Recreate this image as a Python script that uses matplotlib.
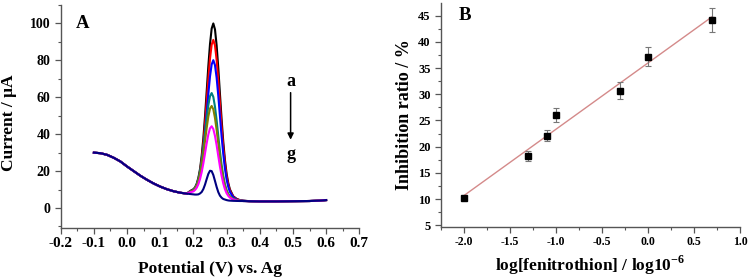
import matplotlib
matplotlib.use("Agg")
import matplotlib.pyplot as plt
import numpy as np
from matplotlib.ticker import MultipleLocator

plt.rcParams['font.family'] = ['Liberation Serif', 'DejaVu Serif']
plt.rcParams['font.weight'] = 'bold'
plt.rcParams['mathtext.fontset'] = 'custom'
plt.rcParams['mathtext.rm'] = 'Liberation Serif:bold'
plt.rcParams['mathtext.bf'] = 'Liberation Serif:bold'

# ---------------- Panel A data (DPV curves a..g) ----------------
left_potential = [-0.10, -0.08, -0.06, -0.04, -0.02, 0.00, 0.02, 0.04, 0.06, 0.08,
                  0.10, 0.12, 0.14, 0.16, 0.18]
left_current = [30.0, 29.7, 28.8, 27.2, 25.2, 22.5, 20.0, 17.5, 15.3, 13.3,
                11.6, 10.2, 9.1, 8.3, 7.8]
peak_potential = [0.19, 0.20, 0.205, 0.21, 0.215, 0.22, 0.225, 0.23, 0.235, 0.24,
                  0.245, 0.25, 0.255, 0.26, 0.265, 0.27, 0.275, 0.28, 0.285, 0.29,
                  0.295, 0.30, 0.305, 0.31, 0.32, 0.33, 0.34, 0.35]
right_potential = [0.37, 0.40, 0.45, 0.50, 0.55, 0.58, 0.60]
right_current = [3.7, 3.6, 3.6, 3.7, 3.8, 4.0, 4.3]

curve_a = [9.2, 10.2, 11.2, 13.2, 16.4, 21.2, 28.4, 37.9, 49.7, 63.2, 76.9, 88.8, 97.2, 100.0,
           96.8, 88.1, 75.8, 61.8, 48.0, 35.9, 26.1, 18.6, 13.6, 10.1, 6.4, 5.0, 4.3, 4.0]
curve_b = [9.1, 9.9, 10.9, 12.6, 15.5, 19.9, 26.4, 34.9, 45.6, 57.8, 70.1, 80.9, 88.5, 91.1,
           88.1, 80.2, 69.0, 56.4, 43.9, 32.9, 24.1, 17.3, 12.7, 9.5, 6.1, 4.8, 4.2, 3.9]
curve_c = [8.9, 9.6, 10.5, 11.9, 14.4, 18.2, 23.8, 31.3, 40.5, 51.1, 61.9, 71.3, 77.8, 80.1,
           77.4, 70.6, 60.8, 49.7, 38.8, 29.3, 21.5, 15.6, 11.6, 8.8, 5.8, 4.6, 4.1, 3.9]
curve_d = [8.9, 9.8, 10.9, 12.8, 15.6, 19.9, 25.5, 32.5, 40.5, 48.6, 55.7, 60.6, 62.3, 60.2,
           54.9, 47.5, 39.0, 30.7, 23.4, 17.5, 12.9, 9.8, 7.7, 6.4, 5.0, 4.4, 4.0, 3.8]
curve_e = [8.7, 9.5, 10.5, 12.1, 14.6, 18.3, 23.2, 29.3, 36.3, 43.4, 49.6, 53.9, 55.3, 53.5,
           48.8, 42.3, 34.8, 27.5, 21.1, 15.9, 11.9, 9.1, 7.3, 6.1, 4.8, 4.3, 4.0, 3.8]
curve_f = [8.5, 9.0, 9.8, 11.0, 12.9, 15.7, 19.5, 24.2, 29.6, 35.1, 39.9, 43.2, 44.3, 42.8,
           39.1, 34.0, 28.1, 22.4, 17.4, 13.3, 10.2, 8.0, 6.6, 5.6, 4.6, 4.1, 3.9, 3.8]
curve_g = [7.6, 7.4, 7.3, 7.3, 7.4, 7.9, 8.7, 10.3, 12.7, 15.7, 18.5, 20.2, 20.0, 17.9,
           14.7, 11.4, 8.6, 6.7, 5.6, 4.9, 4.6, 4.3, 4.1, 4.0, 3.9, 3.85, 3.8, 3.8]
curve_colors = ['#000000', '#ff0000', '#0000ff', '#008080', '#808000', '#ff00ff', '#000080']

a_xticks = [-0.2, -0.1, 0.0, 0.1, 0.2, 0.3, 0.4, 0.5, 0.6, 0.7]
a_yticks = [0, 20, 40, 60, 80, 100]

# ---------------- Panel B data ----------------
log_conc = [-2.0, -1.3, -1.1, -1.0, -0.3, 0.0, 0.7]
inhibition = [10.2, 18.2, 22.1, 26.0, 30.7, 37.2, 44.2]
inhibition_err = [0.4, 0.9, 1.1, 1.3, 1.55, 1.85, 2.25]
b_xticks = [-2.0, -1.5, -1.0, -0.5, 0.0, 0.5, 1.0]
b_yticks = [5, 10, 15, 20, 25, 30, 35, 40, 45]

fig = plt.figure(figsize=(7.48, 2.78), dpi=100)
axA = fig.add_axes([0.0812, 0.180, 0.3991, 0.802])
axB = fig.add_axes([0.5896, 0.1845, 0.3997, 0.8045])

spine_col = '#555555'
for ax in (axA, axB):
    for s in ('top', 'right'):
        ax.spines[s].set_visible(False)
    for s in ('left', 'bottom'):
        ax.spines[s].set_color(spine_col)
        ax.spines[s].set_linewidth(1.0)
    ax.tick_params(which='both', direction='out', color=spine_col)
    ax.tick_params(which='major', length=4, width=0.9)
    ax.tick_params(which='minor', length=2.5, width=0.8)
    ax.tick_params(axis='x', which='major', pad=2.5)
    ax.tick_params(axis='y', which='major', pad=3.5)

# Panel A
for curve, col in zip([curve_a, curve_b, curve_c, curve_d, curve_e, curve_f, curve_g], curve_colors):
    xs = left_potential + peak_potential + right_potential
    ys = left_current + curve + right_current
    axA.plot(xs, ys, color=col, lw=1.5)
axA.set_xlim(-0.2, 0.7)
axA.set_ylim(-10.8, 110)
axA.set_xticks(a_xticks)
axA.set_xticklabels(['%.1f' % v for v in a_xticks], fontweight='bold', fontsize=11)
axA.set_yticks(a_yticks)
axA.set_yticklabels([str(v) for v in a_yticks], fontweight='bold', fontsize=10)
axA.xaxis.set_minor_locator(MultipleLocator(0.05))
axA.yaxis.set_minor_locator(MultipleLocator(10))
axA.set_xlabel('Potential (V) vs. Ag', fontsize=12.5, fontweight='bold', labelpad=8)
axA.set_ylabel('Current / \u03bcA', fontsize=12.5, fontweight='bold')
axA.yaxis.set_label_coords(-0.145, 0.47)
axA.text(-0.135, 100, 'A', fontsize=13.5, fontweight='bold', ha='center', va='center')
axA.text(0.493, 68.4, 'a', fontsize=13, fontweight='bold', ha='center', va='center')
axA.text(0.493, 29.0, 'g', fontsize=13, fontweight='bold', ha='center', va='center')
axA.annotate('', xy=(0.493, 35.5), xytext=(0.493, 64.0),
             arrowprops=dict(arrowstyle='-|>', color='black', lw=1.1, mutation_scale=9))

# Panel B
xs_fit = np.array([min(log_conc), max(log_conc)])
coef = np.polyfit(log_conc, inhibition, 1)
axB.plot(xs_fit, np.polyval(coef, xs_fit), color='#d48a8a', lw=1.0, zorder=2)
axB.errorbar(log_conc, inhibition, yerr=inhibition_err, fmt='s', color='black', ms=4.5,
             ecolor='#777777', elinewidth=0.8, capsize=2, capthick=0.8, zorder=3)
axB.set_xlim(-2.25, 1.0)
axB.set_ylim(4.73, 47.4)
axB.set_xticks(b_xticks)
axB.set_xticklabels(['%.1f' % v for v in b_xticks], fontweight='bold', fontsize=8.5)
axB.set_yticks(b_yticks)
axB.set_yticklabels([str(v) for v in b_yticks], fontweight='bold', fontsize=9)
axB.xaxis.set_minor_locator(MultipleLocator(0.25))
axB.yaxis.set_minor_locator(MultipleLocator(2.5))
axB.set_xlabel(r'log[fenitrothion] / log10$^{\mathbf{-6}}$', fontsize=12.5, fontweight='bold', labelpad=4)
axB.set_ylabel('Inhibition ratio / %', fontsize=13, fontweight='bold')
axB.yaxis.set_label_coords(-0.094, 0.5)
axB.text(-1.99, 45.0, 'B', fontsize=13.5, fontweight='bold', ha='center', va='center')

fig.savefig('out.png', dpi=100)
